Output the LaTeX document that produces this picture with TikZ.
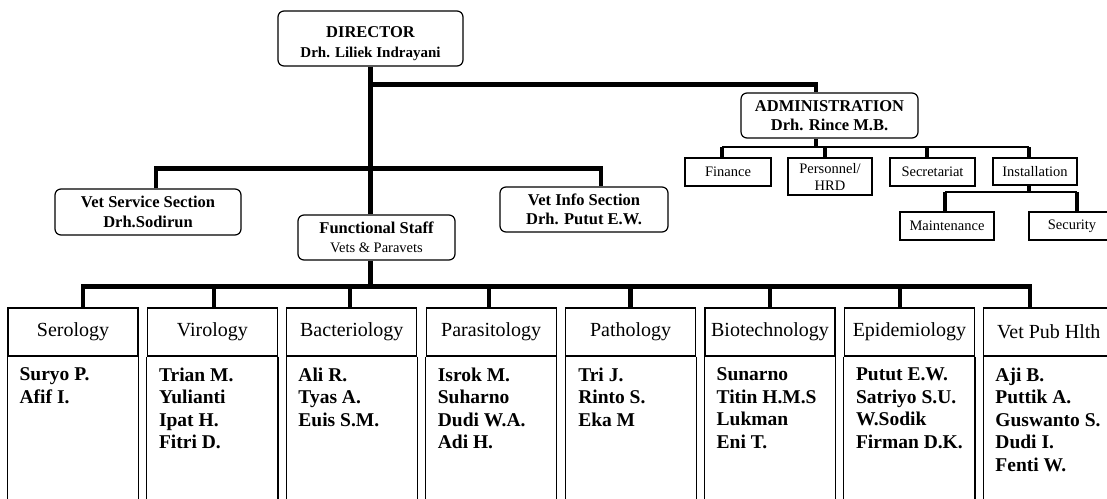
\documentclass[tikz,border=0pt]{standalone}
\usepackage{fontspec}
\setmainfont{Liberation Serif}
\usetikzlibrary{positioning}

\tikzset{
  headbox/.style={draw, rounded corners=6pt, line width=1.2pt, inner sep=0pt, align=center, font=\fontsize{16.5}{19.5}\selectfont\bfseries},
  subbox/.style={draw, rectangle, line width=1.1pt, inner sep=0pt, align=center, font=\fontsize{14.5}{17}\selectfont},
  deptbox/.style={draw, rectangle, line width=1.1pt, minimum width=130pt, minimum height=48pt, inner sep=0pt, font=\fontsize{20}{22}\selectfont},
  staff/.style={anchor=north west, inner sep=0pt, align=left, font=\fontsize{19.5}{22.5}\selectfont\bfseries},
  trunk/.style={line width=4.5pt, line join=miter},
  twig/.style={line width=2pt},
}

\begin{document}
\begin{tikzpicture}[x=1pt, y=-1pt]
\useasboundingbox (0,0) rectangle (1107,498);
\clip (0,0) rectangle (1107,498);

\node[headbox, minimum width=185pt, minimum height=55pt] (dir) at (370.5,38.5) {\rule{0pt}{21pt}DIRECTOR\\{\fontsize{15}{17}\selectfont Drh. Liliek Indrayani}};
\node[headbox, minimum width=177pt, minimum height=45pt] (adm) at (829.5,115.5) {ADMINISTRATION\\Drh. Rince M.B.};
\node[headbox, minimum width=186pt, minimum height=46pt] (vss) at (148,212) {Vet Service Section\\Drh.Sodirun};
\node[headbox, minimum width=157pt, minimum height=45pt] (fs) at (376.5,237.5) {Functional Staff\\{\fontsize{14.5}{17}\selectfont\mdseries Vets \& Paravets}};
\node[headbox, minimum width=168pt, minimum height=45pt] (vis) at (584,209.5) {Vet Info Section\\Drh. Putut E.W.};

\node[subbox, minimum width=86pt, minimum height=28pt] (fin) at (728,172) {Finance};
\node[subbox, minimum width=84pt, minimum height=37pt] (per) at (830,176.5) {Personnel/\\HRD};
\node[subbox, minimum width=85pt, minimum height=28pt] (sec) at (932.5,172) {Secretariat};
\node[subbox, minimum width=84pt, minimum height=27pt] (ins) at (1035,171.5) {Installation};
\node[subbox, minimum width=94pt, minimum height=28pt] (mnt) at (947,226) {Maintenance};
\node[subbox, minimum width=86pt, minimum height=28pt] (scr) at (1072,226) {Security};

\foreach \i/\n/\t in {0/ser/Serology, 1/vir/Virology, 2/bac/Bacteriology, 3/par/Parasitology, 4/pat/Pathology, 5/bio/Biotechnology, 6/epi/Epidemiology, 7/vph/Vet Pub Hlth}{
  \node[deptbox] (\n) at (73+139.4*\i,332) {\t};
  \draw[line width=1.1pt] (\n.south west) -- ++(0,160) (\n.south east) -- ++(0,160);
}

\node[staff] (serS) at ([xshift=12pt,yshift=-11pt]ser.south west) {Suryo P.\\Afif I.};
\node[staff] (virS) at ([xshift=12pt,yshift=-11pt]vir.south west) {Trian M.\\Yulianti\\Ipat H.\\Fitri D.};
\node[staff] (bacS) at ([xshift=12pt,yshift=-11pt]bac.south west) {Ali R.\\Tyas A.\\Euis S.M.};
\node[staff] (parS) at ([xshift=12pt,yshift=-11pt]par.south west) {Isrok M.\\Suharno\\Dudi W.A.\\Adi H.};
\node[staff] (patS) at ([xshift=13pt,yshift=-11pt]pat.south west) {Tri J.\\Rinto S.\\Eka M};
\node[staff] (bioS) at ([xshift=12pt,yshift=-11pt]bio.south west) {Sunarno\\Titin H.M.S\\Lukman\\Eni T.};
\node[staff] (epiS) at ([xshift=12pt,yshift=-11pt]epi.south west) {Putut E.W.\\Satriyo S.U.\\W.Sodik\\Firman D.K.};
\node[staff] (vphS) at ([xshift=12pt,yshift=-11pt]vph.south west) {Aji B.\\Puttik A.\\Guswanto S.\\Dudi I.\\Fenti W.};

% director, administration and the sections
\coordinate (admT) at ([xshift=-13.5pt]adm.north);
\coordinate (ab) at ([yshift=8pt]adm.north);
\draw[trunk] (dir.south) -- (dir.south |- fs.north);
\draw[trunk] (dir.south |- ab) -| (admT);
\coordinate (vssT) at ([xshift=8pt]vss.north);
\coordinate (visT) at ([xshift=17pt]vis.north);
\coordinate (sb) at ([yshift=20pt]vss.north);
\draw[trunk] (vssT) |- (visT |- sb) -- (visT);

% administration units
\coordinate (asb) at ([yshift=10pt]fin.north);
\coordinate (finT) at ([xshift=-6pt]fin.north);
\coordinate (perT) at ([xshift=-5pt]per.north);
\coordinate (secT) at ([xshift=-5.5pt]sec.north);
\coordinate (insT) at ([xshift=-6pt]ins.north);
\draw[twig] (finT |- asb) -- (insT |- asb);
\draw[trunk] (admT |- adm.south) -- (admT |- asb);
\foreach \t in {finT, perT, secT, insT}
  \draw[trunk] (\t) -- (\t |- asb);
\coordinate (isb) at ([yshift=19pt]mnt.north);
\coordinate (mntT) at ([xshift=-2pt]mnt.north);
\coordinate (scrT) at ([xshift=5pt]scr.north);
\draw[trunk] (insT |- ins.south) -- (insT |- isb);
\draw[twig] (mntT |- isb) -- (scrT |- isb);
\draw[trunk] (mntT) -- (mntT |- isb);
\draw[trunk] (scrT) -- (scrT |- isb);

% functional staff down to the laboratories
\coordinate (db) at ([yshift=21pt]ser.north);
\draw[trunk] (dir.south |- fs.south) -- (dir.south |- db);
\draw[trunk] ([xshift=10pt]ser.north) -- ++(0,-21) -| ([xshift=-18.8pt]vph.north);
\foreach \n/\d in {vir/1.6, bac/-1.8, par/-2.2, pat/0, bio/0, epi/-9.4}
  \draw[trunk] ([xshift=\d pt]\n.north) -- ++(0,-21);
\end{tikzpicture}
\end{document}
